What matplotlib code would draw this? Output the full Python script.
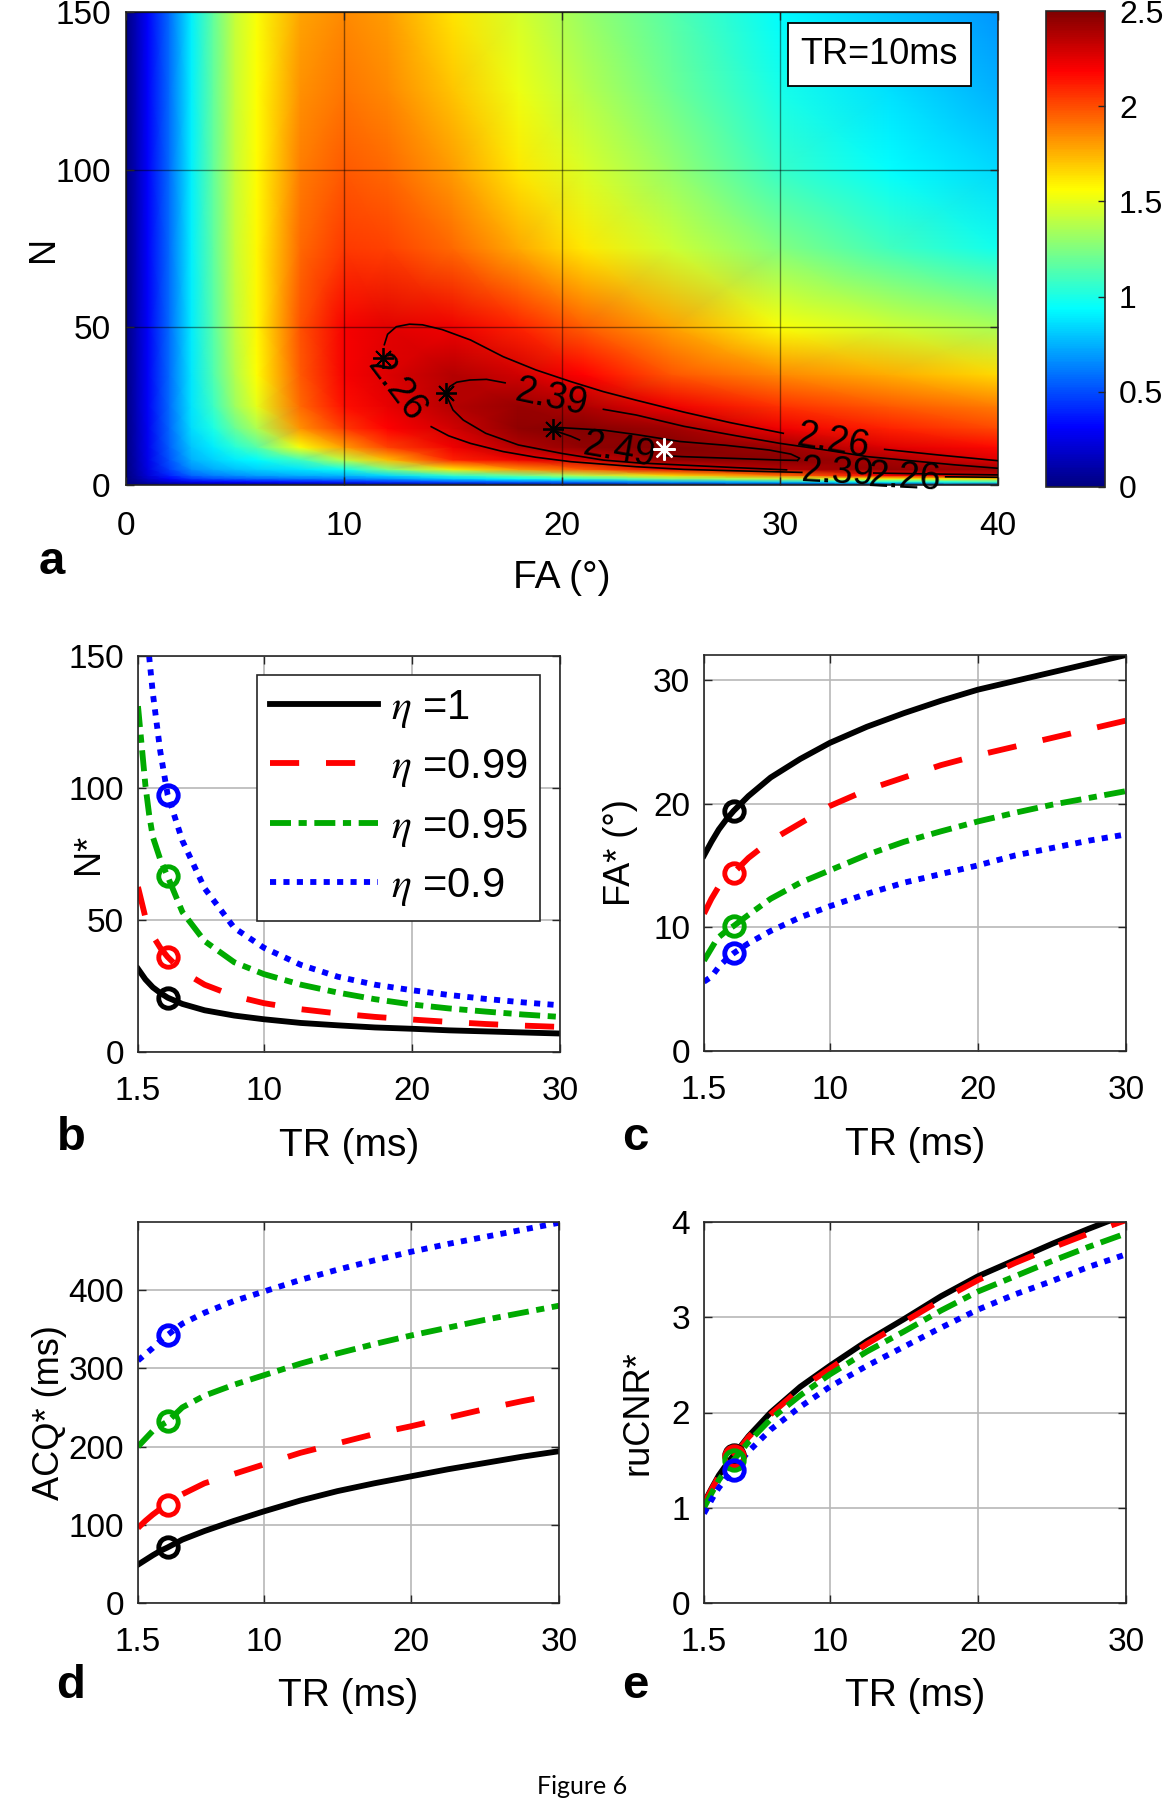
import numpy as np
import matplotlib
matplotlib.use("Agg")
import matplotlib.pyplot as plt
from matplotlib.colors import LinearSegmentedColormap
from matplotlib.patches import Rectangle

plt.rcParams["font.family"] = ["Liberation Sans", "DejaVu Sans"]
plt.rcParams["mathtext.fontset"] = "stix"

# ==============================
# Panel a: ruCNR map at TR = 10 ms
# ==============================
FA_GRID = [0, 0.5, 1, 2, 3, 4, 5, 6, 8, 10, 12, 15, 18, 21, 25, 30, 35, 40]
N_GRID = [0, 1, 2, 3, 5, 8, 12, 18, 25, 35, 50, 75, 100, 125, 150]
CNR_MAP = [
    [0] * 18,
    [0, 0.05, 0.12, 0.20, 0.27, 0.30, 0.32, 0.34, 0.37, 0.40, 0.43, 0.50, 0.55, 0.60, 0.70, 0.80, 0.95, 1.05],
    [0, 0.08, 0.18, 0.32, 0.44, 0.50, 0.53, 0.56, 0.60, 0.63, 0.67, 0.82, 0.95, 1.05, 1.25, 1.42, 1.55, 1.65],
    [0, 0.10, 0.22, 0.40, 0.55, 0.62, 0.66, 0.70, 0.74, 0.76, 0.84, 1.05, 1.20, 1.38, 1.65, 1.90, 2.20, 2.33],
    [0, 0.12, 0.25, 0.47, 0.66, 0.74, 0.79, 0.83, 0.87, 0.97, 1.25, 1.62, 1.82, 1.97, 2.26, 2.37, 2.45, 2.43],
    [0, 0.13, 0.27, 0.52, 0.75, 0.83, 0.89, 0.93, 1.10, 1.40, 1.72, 2.10, 2.22, 2.30, 2.46, 2.48, 2.40, 2.26],
    [0, 0.14, 0.28, 0.55, 0.80, 0.89, 1.03, 1.15, 1.55, 1.80, 2.03, 2.22, 2.37, 2.46, 2.50, 2.43, 2.26, 2.16],
    [0, 0.14, 0.29, 0.57, 0.85, 1.00, 1.20, 1.36, 1.83, 2.05, 2.18, 2.30, 2.46, 2.49, 2.42, 2.22, 2.10, 2.01],
    [0, 0.15, 0.30, 0.58, 0.87, 1.08, 1.32, 1.50, 1.93, 2.15, 2.24, 2.37, 2.44, 2.38, 2.22, 2.07, 1.97, 1.88],
    [0, 0.15, 0.30, 0.58, 0.88, 1.13, 1.37, 1.56, 1.97, 2.20, 2.27, 2.37, 2.30, 2.18, 1.98, 1.85, 1.76, 1.66],
    [0, 0.15, 0.30, 0.58, 0.89, 1.15, 1.40, 1.58, 1.99, 2.20, 2.25, 2.22, 2.10, 1.96, 1.79, 1.55, 1.45, 1.35],
    [0, 0.15, 0.31, 0.58, 0.90, 1.17, 1.42, 1.58, 1.93, 2.05, 2.03, 1.93, 1.77, 1.62, 1.44, 1.25, 1.10, 0.98],
    [0, 0.15, 0.31, 0.58, 0.90, 1.18, 1.42, 1.57, 1.88, 1.97, 1.93, 1.80, 1.62, 1.47, 1.30, 1.07, 0.94, 0.84],
    [0, 0.15, 0.31, 0.58, 0.90, 1.18, 1.42, 1.56, 1.83, 1.90, 1.85, 1.70, 1.52, 1.38, 1.21, 0.99, 0.86, 0.75],
    [0, 0.15, 0.31, 0.58, 0.90, 1.18, 1.42, 1.55, 1.78, 1.85, 1.80, 1.63, 1.46, 1.31, 1.15, 0.93, 0.80, 0.68],
]

# iso-lines (FA, N), broken where the inline labels sit
C226_FA = [[11.85, 12.0, 12.4, 13.0, 13.6, 14.5, 15.8, 17.3, 18.8, 20.4, 21.9, 23.4, 25.6, 27.7, 30.15],
           [34.8, 37.3, 40.0],
           [14.0, 14.8, 15.8, 17.3, 18.8, 20.4, 23.4, 25.6, 28.0, 31.0],
           [37.6, 40.0]]
C226_N = [[44.5, 47.8, 50.2, 51.0, 50.8, 49.3, 46.0, 40.7, 36.5, 32.8, 29.6, 26.9, 23.1, 19.8, 16.4],
          [11.3, 9.5, 7.7],
          [18.5, 15.6, 13.2, 10.6, 8.8, 7.4, 5.8, 4.95, 4.5, 4.0],
          [2.6, 2.45]]
C239_FA = [[14.7, 14.85, 15.17, 15.78, 16.54, 17.39],
           [21.9, 23.4, 25.6, 28.0, 30.0, 32.0, 34.0, 36.0, 38.0, 40.0],
           [14.7, 14.79, 15.0, 15.47, 16.5, 18.0, 20.0, 21.9, 23.5, 25.6, 28.0, 30.3],
           [34.3, 37.0, 40.0]]
C239_N = [[29.1, 31.2, 32.6, 33.3, 33.5, 32.4],
          [24.0, 22.2, 18.6, 15.6, 13.2, 11.2, 9.0, 7.7, 6.4, 5.3],
          [29.1, 27.0, 23.8, 20.6, 16.4, 12.7, 10.0, 7.9, 7.0, 6.3, 5.5, 4.8],
          [3.8, 3.5, 3.2]]
C249_FA = [[19.6, 19.9, 21.9, 23.4, 25.4, 27.5, 29.5, 30.5, 30.9, 30.8],
           [19.6, 19.75, 20.4, 20.8],
           [24.8, 25.5, 28.0, 30.0, 30.8]]
C249_N = [[17.9, 18.2, 17.4, 16.0, 13.8, 12.6, 11.1, 9.8, 8.5, 7.8],
          [17.9, 17.0, 15.5, 14.3],
          [9.3, 9.0, 8.4, 7.9, 7.8]]
LABEL_TXT = ["2.26", "2.39", "2.49", "2.26", "2.39", "2.26"]
LABEL_FA = [12.4, 19.5, 22.6, 32.4, 32.6, 35.7]
LABEL_N = [30.7, 27.5, 10.8, 13.7, 3.9, 2.3]
LABEL_ROT = [-53, -12, -10, -10, -3, -3]

OPT_FA = [11.8, 14.7, 19.6]   # eta = 0.9, 0.95, 0.99
OPT_N = [40.2, 29.1, 17.9]
MAX_FA, MAX_N = 24.7, 11.3      # eta = 1

# ==============================
# Panels b-e: optimum vs TR
# ==============================
TR = [1.5, 2.0, 2.25, 2.5, 3.0, 3.5, 4.5, 6, 8, 10, 12.5, 15, 17.5, 20, 22.5, 25, 27.5, 30]
MARK_TR = 3.5
ETA = ["1", "0.99", "0.95", "0.9"]

N_OPT = [
    [31.5, 27.5, 26.0, 24.5, 22.4, 20.6, 18.2, 15.8, 13.8, 12.4, 11.0, 10.1, 9.3, 8.8, 8.2, 7.8, 7.4, 7.0],
    [62.5, 51, 47.5, 44, 39.5, 36, 30.5, 25.5, 21.2, 18.5, 16.2, 14.6, 13.3, 12.3, 11.4, 10.6, 10.0, 9.5],
    [131, 101, 90, 81.5, 73, 66.5, 53, 42, 34, 29.5, 25.5, 22.5, 20, 18, 16.5, 15.3, 14.2, 13.3],
    [np.nan, np.nan, 150, 136, 114, 97.5, 80, 62, 47, 39.5, 33, 28.5, 25.5, 23.4, 21.6, 20.1, 18.8, 17.7],
]
FA_OPT = [
    [15.8, 16.9, 17.4, 17.9, 18.7, 19.4, 20.6, 22.1, 23.6, 24.9, 26.2, 27.3, 28.3, 29.2, 29.9, 30.6, 31.3, 32.0],
    [11.1, 12.3, 12.8, 13.3, 13.9, 14.4, 15.6, 17.0, 18.4, 19.8, 21.1, 22.1, 23.1, 23.9, 24.6, 25.3, 26.0, 26.7],
    [7.3, 8.3, 8.8, 9.2, 9.7, 10.1, 11.0, 12.3, 13.6, 14.6, 15.85, 16.9, 17.75, 18.55, 19.25, 19.9, 20.45, 21.0],
    [5.6, 6.0, 6.4, 6.8, 7.4, 7.9, 8.7, 9.7, 10.8, 11.7, 12.7, 13.6, 14.3, 15.0, 15.8, 16.4, 17.0, 17.5],
]
ACQ_OPT = [
    [49, 55, 58, 61, 66.5, 71, 81, 92, 105, 117, 131, 143, 153, 162, 171, 179, 187, 194],
    [96, 105, 109, 113, 120, 125.5, 139, 153, 165, 177, 192, 204, 216, 226, 237, 248, 258, 267],
    [200, 210, 215, 220, 226.5, 232, 250, 265, 279, 291, 306, 319, 331, 342, 352, 362, 371, 380],
    [310, 318, 322, 326, 335, 342.6, 357, 371, 386, 398, 413, 426, 438, 449, 459, 468, 477, 486],
]
CNR_OPT = [
    [1.05, 1.20, 1.27, 1.34, 1.45, 1.55, 1.75, 2.00, 2.27, 2.49, 2.75, 2.98, 3.22, 3.43, 3.60, 3.77, 3.93, 4.08],
    [1.04, 1.19, 1.26, 1.33, 1.44, 1.54, 1.74, 1.98, 2.25, 2.46, 2.72, 2.95, 3.18, 3.39, 3.57, 3.73, 3.88, 4.02],
    [1.00, 1.15, 1.22, 1.29, 1.40, 1.50, 1.69, 1.93, 2.18, 2.40, 2.64, 2.85, 3.07, 3.27, 3.43, 3.59, 3.74, 3.88],
    [0.94, 1.08, 1.15, 1.21, 1.31, 1.40, 1.59, 1.82, 2.06, 2.27, 2.49, 2.69, 2.89, 3.08, 3.24, 3.38, 3.53, 3.66],
]

COLORS = ["black", "red", "#00aa00", "blue"]
STYLES = ["-", (0, (5.0, 4.6)), (0, (3.6, 1.3, 1.4, 1.3)), (0, (1.05, 1.25))]
LW = 4.2

# MATLAB style jet
jet_m = LinearSegmentedColormap.from_list(
    "jet_m",
    [(0, (0, 0, 0.5)), (1 / 8, (0, 0, 1)), (3 / 8, (0, 1, 1)),
     (5 / 8, (1, 1, 0)), (7 / 8, (1, 0, 0)), (1, (0.5, 0, 0))], N=256)

TICK_FS = 24
XLABEL_FS = 28
YLABEL_FS = 26

fig = plt.figure(figsize=(11.65, 18), dpi=100)
W, H = 1165.0, 1800.0


def box(l, t, r, b):
    return [l / W, 1 - b / H, (r - l) / W, (b - t) / H]


def style_axes(ax, xpad=17, ypad=10):
    ax.tick_params(direction="in", top=True, right=True, labelsize=TICK_FS,
                   length=6, width=1, color="0.15")
    ax.tick_params(axis="x", pad=xpad)
    ax.tick_params(axis="y", pad=ypad)
    for s in ax.spines.values():
        s.set_linewidth(1.2)
        s.set_color("0.15")


# ------------------------------
# a
# ------------------------------
ax = fig.add_axes(box(126, 12, 998, 485))
FAm, Nm = np.meshgrid(FA_GRID, N_GRID)
mesh = ax.pcolormesh(FAm, Nm, np.array(CNR_MAP), cmap=jet_m, vmin=0, vmax=2.5,
                     shading="gouraud", rasterized=True)
ax.set_xlim(0, 40)
ax.set_ylim(0, 150)
ax.set_xticks([0, 10, 20, 30, 40])
ax.set_yticks([0, 50, 100, 150])
ax.grid(True, color="black", alpha=0.45, lw=1)
ax.set_axisbelow(False)
style_axes(ax, xpad=19, ypad=11)

for fa_l, n_l in ((C226_FA, C226_N), (C239_FA, C239_N), (C249_FA, C249_N)):
    for fa_s, n_s in zip(fa_l, n_l):
        ax.plot(fa_s, n_s, color="black", lw=1.2, zorder=3)
for t, x, y, r in zip(LABEL_TXT, LABEL_FA, LABEL_N, LABEL_ROT):
    ax.text(x, y, t, fontsize=27, rotation=r, rotation_mode="anchor",
            ha="center", va="center", zorder=4, clip_on=False)
ax.plot(OPT_FA, OPT_N, ls="none", marker=(8, 2, 0), ms=15, mew=1.3,
        color="black", zorder=5)
ax.plot([MAX_FA], [MAX_N], ls="none", marker=(8, 2, 0), ms=16, mew=1.6,
        color="white", zorder=5)

ax.add_patch(Rectangle((0.759, 0.8436), 0.21, 0.1334, transform=ax.transAxes,
                       fc="white", ec="black", lw=1.3, zorder=6))
ax.text(0.864, 0.91, "TR=10ms", transform=ax.transAxes, fontsize=26,
        ha="center", va="center", zorder=7)
ax.set_xlabel("FA (°)", fontsize=XLABEL_FS)
ax.xaxis.set_label_coords(0.5, -0.159)
ax.set_ylabel("N", fontsize=YLABEL_FS)
ax.yaxis.set_label_coords(-0.074, 0.5)

cax = fig.add_axes(box(1046, 11, 1105, 487))
cb = fig.colorbar(mesh, cax=cax)
cb.set_ticks([0, 0.5, 1, 1.5, 2, 2.5])
cb.set_ticklabels(["0", "0.5", "1", "1.5", "2", "2.5"])
cb.ax.tick_params(direction="in", labelsize=23, length=5, width=1,
                  color="0.15", pad=10)
cb.outline.set_linewidth(1.2)
cb.outline.set_edgecolor("0.15")


# ------------------------------
# b-e
# ------------------------------
def tr_panel(rect, series, ylim, yticks, ylabel, ylab_x, xlab_y):
    ax = fig.add_axes(box(*rect))
    mi = TR.index(MARK_TR)
    lines = []
    for vals, c, ls in zip(series, COLORS, STYLES):
        ln, = ax.plot(TR, vals, color=c, ls=ls, lw=LW, dash_capstyle="butt")
        lines.append(ln)
    for vals, c in zip(series, COLORS):
        ax.plot([TR[mi]], [vals[mi]], "o", mfc="none", mec=c, ms=14, mew=3.5)
    ax.set_xlim(1.5, 30)
    ax.set_xticks([1.5, 10, 20, 30])
    ax.set_xticklabels(["1.5", "10", "20", "30"])
    ax.set_ylim(*ylim)
    ax.set_yticks(yticks)
    ax.grid(True, color="0.72", lw=1.2)
    style_axes(ax)
    ax.set_xlabel("TR (ms)", fontsize=XLABEL_FS)
    ax.xaxis.set_label_coords(0.5, xlab_y)
    ax.set_ylabel(ylabel, fontsize=YLABEL_FS)
    ax.yaxis.set_label_coords(ylab_x, 0.5)
    return ax, lines


ax_b, lines_b = tr_panel((138, 656, 560, 1052), N_OPT, (0, 150), [0, 50, 100, 150],
                         "N*", -0.075, -0.192)
leg = ax_b.legend(lines_b, [r"$\eta$ =" + e for e in ETA], loc="upper right",
                  bbox_to_anchor=(0.953, 0.952), borderaxespad=0, fontsize=30,
                  handlelength=2.6, handletextpad=0.3, labelspacing=0.42,
                  borderpad=0.3, fancybox=False, framealpha=1, edgecolor="0.15")
leg.get_frame().set_linewidth(1.2)

tr_panel((704, 655, 1126, 1051), FA_OPT, (0, 32), [0, 10, 20, 30],
         "FA* (°)", -0.156, -0.192)
tr_panel((138, 1222, 559, 1603), ACQ_OPT, (0, 487), [0, 100, 200, 300, 400],
         "ACQ* (ms)", -0.168, -0.198)
tr_panel((704, 1222, 1126, 1603), CNR_OPT, (0, 4), [0, 1, 2, 3, 4],
         "ruCNR*", -0.116, -0.198)

for letter, x, y in (("a", 52, 562), ("b", 71, 1138), ("c", 635, 1138),
                     ("d", 71, 1686), ("e", 635, 1686)):
    fig.text(x / W, 1 - y / H, letter, fontsize=34, fontweight="bold",
             ha="center", va="center")

fig.text(582 / W, 1 - 1786 / H, "Figure 6", fontsize=18, family="Lato",
         ha="center", va="center")

fig.savefig("out.png", dpi=100)
